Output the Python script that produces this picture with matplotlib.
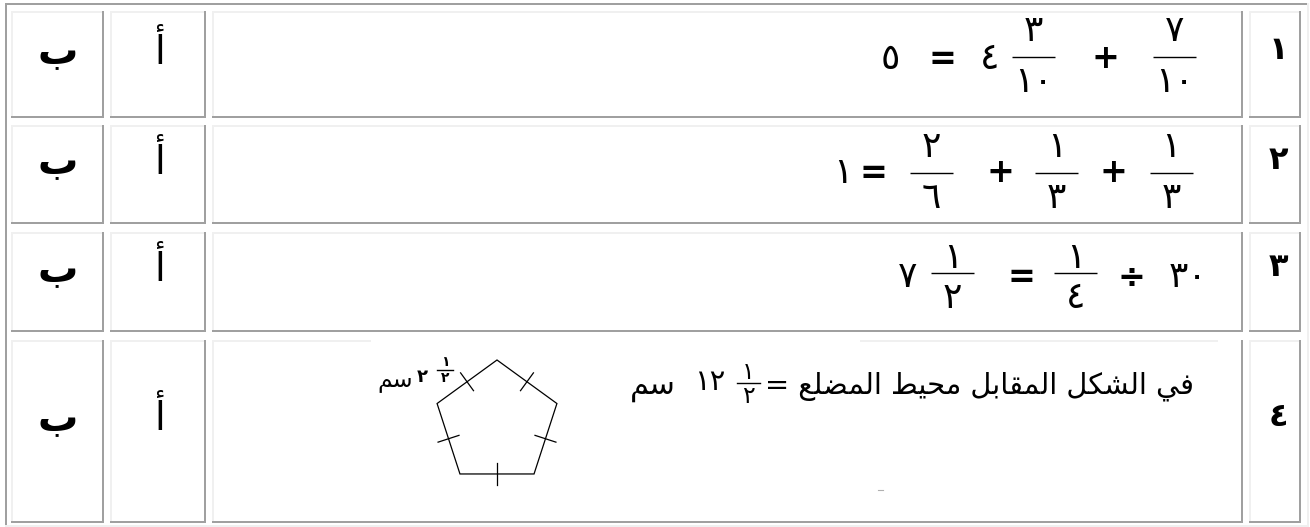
import matplotlib
matplotlib.use("Agg")
import matplotlib.pyplot as plt
from matplotlib.patches import Rectangle, Polygon
import numpy as np

# ---------------- data ----------------
question_numbers = ["١", "٢", "٣", "٤"]
choice_a = "أ"
choice_b = "ب"

# equations, tokens in visual (left-to-right) order; a 2-tuple is a fraction
eq_row1 = [("٥",), ("=",), ("٤",), ("٣", "١٠"), ("+",), ("٧", "١٠")]
eq_row2 = [("١",), ("=",), ("٢", "٦"), ("+",), ("١", "٣"), ("+",), ("١", "٣")]
eq_row3 = [("٧",), ("١", "٢"), ("=",), ("١", "٤"), ("÷",), ("٣٠",)]

sentence4 = "في الشكل المقابل محيط المضلع ="
sentence4_frac = ("١", "٢")
sentence4_whole = "١٢"
unit_text = "سم"
side_whole = "٢"
side_frac = ("١", "٢")

# ---------------- layout (pixels) ----------------
W, H = 1310, 527
col_x = [(11, 104), (110, 206), (212, 1243), (1249, 1301)]
row_y = [(11, 118), (125, 224), (232, 332), (340, 523)]
LIGHT = "#f0f0f0"
DARK = "#a0a0a0"

eq_x = [
    [890, 942, 990, 1033.5, 1105, 1174.5],
    [843, 873, 931.5, 1000, 1056.5, 1113, 1171],
    [908, 952.5, 1021, 1075.5, 1131, 1188],
]
eq_tok_y = [59, 173, 277]
eq_bar_y = [57, 173, 273]
eq_num_y = [31, 147, 258]
eq_den_y = [82, 198, 298]
BAR_W = 43
DIGIT_FS = 26
OP_FS = 24

# --------------- Arabic shaping (presentation forms) ---------------
FORMS = {
    'ا': ('\uFE8D', '\uFE8E', None, None),
    'أ': ('\uFE83', '\uFE84', None, None),
    'ب': ('\uFE8F', '\uFE90', '\uFE91', '\uFE92'),
    'ح': ('\uFEA1', '\uFEA2', '\uFEA3', '\uFEA4'),
    'س': ('\uFEB1', '\uFEB2', '\uFEB3', '\uFEB4'),
    'ش': ('\uFEB5', '\uFEB6', '\uFEB7', '\uFEB8'),
    'ض': ('\uFEBD', '\uFEBE', '\uFEBF', '\uFEC0'),
    'ط': ('\uFEC1', '\uFEC2', '\uFEC3', '\uFEC4'),
    'ع': ('\uFEC9', '\uFECA', '\uFECB', '\uFECC'),
    'ف': ('\uFED1', '\uFED2', '\uFED3', '\uFED4'),
    'ق': ('\uFED5', '\uFED6', '\uFED7', '\uFED8'),
    'ك': ('\uFED9', '\uFEDA', '\uFEDB', '\uFEDC'),
    'ل': ('\uFEDD', '\uFEDE', '\uFEDF', '\uFEE0'),
    'م': ('\uFEE1', '\uFEE2', '\uFEE3', '\uFEE4'),
    'ي': ('\uFEF1', '\uFEF2', '\uFEF3', '\uFEF4'),
}


def shape(s):
    out = []
    for i, c in enumerate(s):
        if c not in FORMS:
            out.append(c)
            continue
        prev = s[i - 1] if i > 0 else ''
        nxt = s[i + 1] if i + 1 < len(s) else ''
        jp = prev in FORMS and FORMS[prev][2] is not None
        jn = nxt in FORMS and FORMS[c][2] is not None
        iso, fin, ini, med = FORMS[c]
        if jp and jn:
            out.append(med)
        elif jp:
            out.append(fin)
        elif jn:
            out.append(ini)
        else:
            out.append(iso)
    return ''.join(reversed(out))


plt.rcParams['font.family'] = ['DejaVu Sans']
fig = plt.figure(figsize=(W / 100, H / 100), dpi=100)
ax = fig.add_axes([0, 0, 1, 1])
ax.set_xlim(0, W)
ax.set_ylim(H, 0)
ax.axis('off')


def band(x0, y0, x1, y1, color):
    ax.add_patch(Rectangle((x0, y0), x1 - x0, y1 - y0, facecolor=color,
                           edgecolor='none', lw=0, antialiased=False))


# outer table border (top/left dark, right/bottom light)
band(5, 3, 1309, 5, DARK)
band(5, 3, 7, 527, DARK)
band(1307, 3, 1309, 527, LIGHT)
band(5, 525, 1309, 527, LIGHT)

# cells
for ri, (y0, y1) in enumerate(row_y):
    for ci, (x0, x1) in enumerate(col_x):
        if ri == 3 and ci == 2:
            band(x0, y0, 371, y0 + 2, LIGHT)
            band(860, y0, 1218, y0 + 2, LIGHT)
        else:
            band(x0, y0, x1, y0 + 2, LIGHT)
        band(x0, y0, x0 + 2, y1, LIGHT)
        band(x0, y1 - 2, x1, y1, DARK)
        band(x1 - 2, y0, x1, y1, DARK)

# choice letters and question numbers
for ri, (y0, y1) in enumerate(row_y):
    yc = (y0 + y1) / 2
    ax.text((col_x[0][0] + col_x[0][1]) / 2, yc - 11, shape(choice_b),
            fontsize=29, fontweight='bold', ha='center', va='center')
    ax.text((col_x[1][0] + col_x[1][1]) / 2 + 2, yc - 13, shape(choice_a),
            fontsize=28, ha='center', va='center')
    ax.text((col_x[3][0] + col_x[3][1]) / 2 + 3, yc - 14, question_numbers[ri],
            fontsize=23, fontweight='bold', ha='center', va='center')

# equations rows 1-3
for ri, eq in enumerate([eq_row1, eq_row2, eq_row3]):
    for tok, x in zip(eq, eq_x[ri]):
        if len(tok) == 2:
            ax.plot([x - BAR_W / 2, x + BAR_W / 2], [eq_bar_y[ri]] * 2,
                    color='black', lw=1.0, solid_capstyle='butt')
            ax.text(x, eq_num_y[ri], tok[0], fontsize=DIGIT_FS, ha='center', va='center')
            ax.text(x, eq_den_y[ri], tok[1], fontsize=DIGIT_FS, ha='center', va='center')
        else:
            t = tok[0]
            if t in ('=', '+', '÷'):
                ax.text(x, eq_tok_y[ri], t, fontsize=OP_FS, ha='center', va='center',
                        fontweight='bold')
            else:
                ax.text(x, eq_tok_y[ri], t, fontsize=DIGIT_FS, ha='center', va='center')

# row 4 sentence
renderer = fig.canvas.get_renderer()
s4 = ax.text(1194, 386, shape(sentence4), fontsize=20, ha='right', va='center')
bb = s4.get_window_extent(renderer)
target_w = 1194 - 765
fs4 = 20 * target_w / bb.width
s4.set_fontsize(fs4)

ax.plot([737, 760], [383, 383], color='black', lw=1.0)
ax.text(748.5, 372, sentence4_frac[0], fontsize=17, ha='center', va='center')
ax.text(748.5, 396, sentence4_frac[1], fontsize=17, ha='center', va='center')
ax.text(710, 382, sentence4_whole, fontsize=21, ha='center', va='center')
ax.text(653, 388, shape(unit_text), fontsize=22, ha='center', va='center')

# pentagon with equal-side tick marks
cx, cy, R = 497, 423, 63
ang = np.deg2rad(90 + 72 * np.arange(5))
verts = np.column_stack([cx + R * np.cos(ang), cy - R * np.sin(ang)])
ax.add_patch(Polygon(verts, closed=True, fill=False, edgecolor='black', lw=0.9))
for i in range(5):
    p, q = verts[i], verts[(i + 1) % 5]
    m = (p + q) / 2
    d = (q - p) / np.linalg.norm(q - p)
    n = np.array([-d[1], d[0]])
    a, b = m - 11 * n, m + 11 * n
    ax.plot([a[0], b[0]], [a[1], b[1]], color='black', lw=0.9)

# side label
ax.text(395, 380, shape(unit_text), fontsize=17, ha='center', va='center')
ax.text(422, 377, side_whole, fontsize=13, fontweight='bold', ha='center', va='center')
ax.plot([437, 453], [370, 370], color='black', lw=1.0)
ax.text(445, 362, side_frac[0], fontsize=10, fontweight='bold', ha='center', va='center')
ax.text(445, 378, side_frac[1], fontsize=10, fontweight='bold', ha='center', va='center')

# small stray mark
ax.plot([878, 883], [490, 490], color='#b0b0b0', lw=0.8)

fig.savefig('out.png', dpi=100, facecolor='white')
